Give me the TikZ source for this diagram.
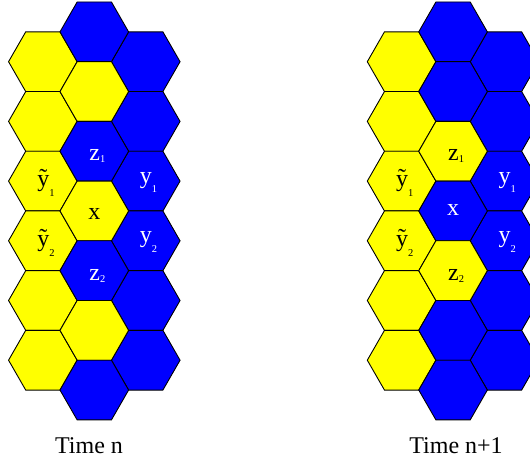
\documentclass[tikz,border=0pt]{standalone}
\usepackage{fontspec}
\setmainfont{Liberation Serif}
\definecolor{hexyellow}{HTML}{FFFF00}
\definecolor{hexblue}{HTML}{0000FF}
\newcommand\hexcell[3]{%
  \filldraw[hexline,fill=#3,shift={(#1,#2)}]
    (34.3,0) -- (17.15,29.85) -- (-17.15,29.85) -- (-34.3,0)
    -- (-17.15,-29.85) -- (17.15,-29.85) -- cycle;}
\newcommand\lbl[3]{#1\rlap{\raisebox{-#3pt}{\fontsize{10.5}{11}\selectfont #2}}}
\newcommand\tly{\ooalign{y\cr\hidewidth\raisebox{1.5pt}{\char"02DC}\hidewidth\cr}}
\tikzset{
  hexline/.style={draw=black,line width=0.9pt,line join=miter},
  cellw/.style={text=white,anchor=base,inner sep=0pt,font=\fontsize{24}{26}\selectfont},
  cellb/.style={text=black,anchor=base,inner sep=0pt,font=\fontsize{24}{26}\selectfont},
  caption/.style={text=black,anchor=base,inner sep=0pt,font=\fontsize{24}{26}\selectfont}
}
\begin{document}
\begin{tikzpicture}[x=1pt,y=-1pt]
\useasboundingbox (0,0) rectangle (530,462);
\clip (0,0) rectangle (530,462);
% ---------- Time n ----------
\foreach \k in {0,...,5}{
  \hexcell{42.85}{61.7+59.7*\k}{hexyellow}
  \hexcell{145.75}{61.7+59.7*\k}{hexblue}
}
\foreach \k/\c in {0/hexblue,1/hexyellow,2/hexblue,3/hexyellow,4/hexblue,5/hexyellow,6/hexblue}{
  \hexcell{94.3}{31.85+59.7*\k}{\c}
}
\node[cellw] (lz1) at (94.7,160.7) {\lbl{z}{1}{2}};
\node[cellb] (lty1) at (43.3,187) {\lbl{\tly}{1}{9.5}};
\node[cellw] (ly1) at (145.8,183.3) {\lbl{y}{1}{9.5}};
\node[cellb] (lx) at (94.3,219.3) {x};
\node[cellb] (lty2) at (43.3,246.7) {\lbl{\tly}{2}{9.5}};
\node[cellw] (ly2) at (145.8,243) {\lbl{y}{2}{9.5}};
\node[cellw] (lz2) at (94.7,280.3) {\lbl{z}{2}{2}};
\node[caption] (tn) at (89,453) {Time n};
% ---------- Time n+1 ----------
\begin{scope}[shift={(358.75,0)}]
\foreach \k in {0,...,5}{
  \hexcell{42.85}{61.7+59.7*\k}{hexyellow}
  \hexcell{145.75}{61.7+59.7*\k}{hexblue}
}
\foreach \k/\c in {0/hexblue,1/hexblue,2/hexyellow,3/hexblue,4/hexyellow,5/hexblue,6/hexblue}{
  \hexcell{94.3}{31.85+59.7*\k}{\c}
}
\node[cellb] (rz1) at (94.7,160.7) {\lbl{z}{1}{2}};
\node[cellb] (rty1) at (43.3,187) {\lbl{\tly}{1}{9.5}};
\node[cellw] (ry1) at (145.8,183.3) {\lbl{y}{1}{9.5}};
\node[cellw] (rx) at (94.3,216) {x};
\node[cellb] (rty2) at (43.3,246.7) {\lbl{\tly}{2}{9.5}};
\node[cellw] (ry2) at (145.8,243) {\lbl{y}{2}{9.5}};
\node[cellb] (rz2) at (94.7,280.3) {\lbl{z}{2}{2}};
\node[caption] (tn1) at (97.25,453) {Time n+1};
\end{scope}
\end{tikzpicture}
\end{document}
